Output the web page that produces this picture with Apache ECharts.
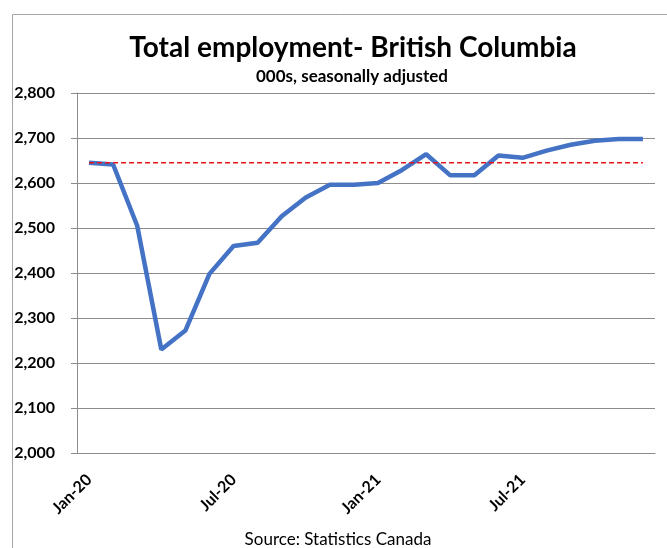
<!DOCTYPE html>
<html>
<head>
<meta charset="utf-8">
<script src="https://cdn.jsdelivr.net/npm/echarts@6/dist/echarts.min.js"></script>
<style>html,body{margin:0;padding:0;background:#fff}#c{width:667px;height:548px}</style>
</head>
<body>
<div id="c"></div>
<script>
const months = ['Jan-20','Feb-20','Mar-20','Apr-20','May-20','Jun-20','Jul-20','Aug-20','Sep-20','Oct-20','Nov-20','Dec-20',
                'Jan-21','Feb-21','Mar-21','Apr-21','May-21','Jun-21','Jul-21','Aug-21','Sep-21','Oct-21','Nov-21','Dec-21'];
const employment = [2645,2641,2505,2230,2272,2398,2460,2467,2526,2568,2596,2596,
                    2600,2629,2664,2617,2617,2661,2656,2672,2685,2694,2698,2698];
const preCovidLevel = 2645;
const yTicks = {min:2000, max:2800, interval:100};

const chart = echarts.init(document.getElementById('c'));
const FONT = 'Lato';
chart.setOption({
  animation:false,
  backgroundColor:'#fff',
  graphic:[
    {type:'rect',left:10,top:12,shape:{width:700,height:600},style:{fill:'none',stroke:'#a6a6a6',lineWidth:1},silent:true},
    {type:'text',x:353,y:48,silent:true,style:{text:'Total employment- British Columbia',fontFamily:FONT,fontWeight:'bold',fontSize:28,fill:'#000',textAlign:'center',textVerticalAlign:'middle'}},
    {type:'text',x:352,y:77,silent:true,style:{text:'000s, seasonally adjusted',fontFamily:FONT,fontWeight:'bold',fontSize:17,fill:'#000',textAlign:'center',textVerticalAlign:'middle'}},
    {type:'text',x:338,y:540,silent:true,style:{text:'Source: Statistics Canada',fontFamily:FONT,fontSize:17,fill:'#000',textAlign:'center',textVerticalAlign:'middle'}}
  ],
  grid:{left:77,right:12,top:93,bottom:95},
  xAxis:{
    type:'category',data:months,boundaryGap:true,
    axisLine:{lineStyle:{color:'#8c8c8c',width:1}},
    axisTick:{interval:0,length:5,lineStyle:{color:'#8c8c8c'}},
    axisLabel:{interval:5,rotate:45,margin:24,fontFamily:FONT,fontWeight:'bold',fontSize:16,color:'#000'},
    splitLine:{show:false}
  },
  yAxis:{
    type:'value',min:yTicks.min,max:yTicks.max,interval:yTicks.interval,
    axisLine:{show:true,lineStyle:{color:'#8c8c8c'}},
    axisTick:{show:true,length:6,lineStyle:{color:'#8c8c8c'}},
    axisLabel:{margin:22,fontFamily:FONT,fontWeight:'bold',fontSize:16,color:'#000',
      formatter:v=>v.toLocaleString('en-US')},
    splitLine:{lineStyle:{color:'#8c8c8c',width:1}}
  },
  series:[
    {type:'line',data:employment,symbol:'none',lineStyle:{color:'#4472C4',width:4.5},z:3},
    {type:'line',data:months.map(()=>preCovidLevel),symbol:'none',lineStyle:{color:'#e8141c',width:1.5,type:[5,3]},z:4}
  ]
});
</script>
</body>
</html>
